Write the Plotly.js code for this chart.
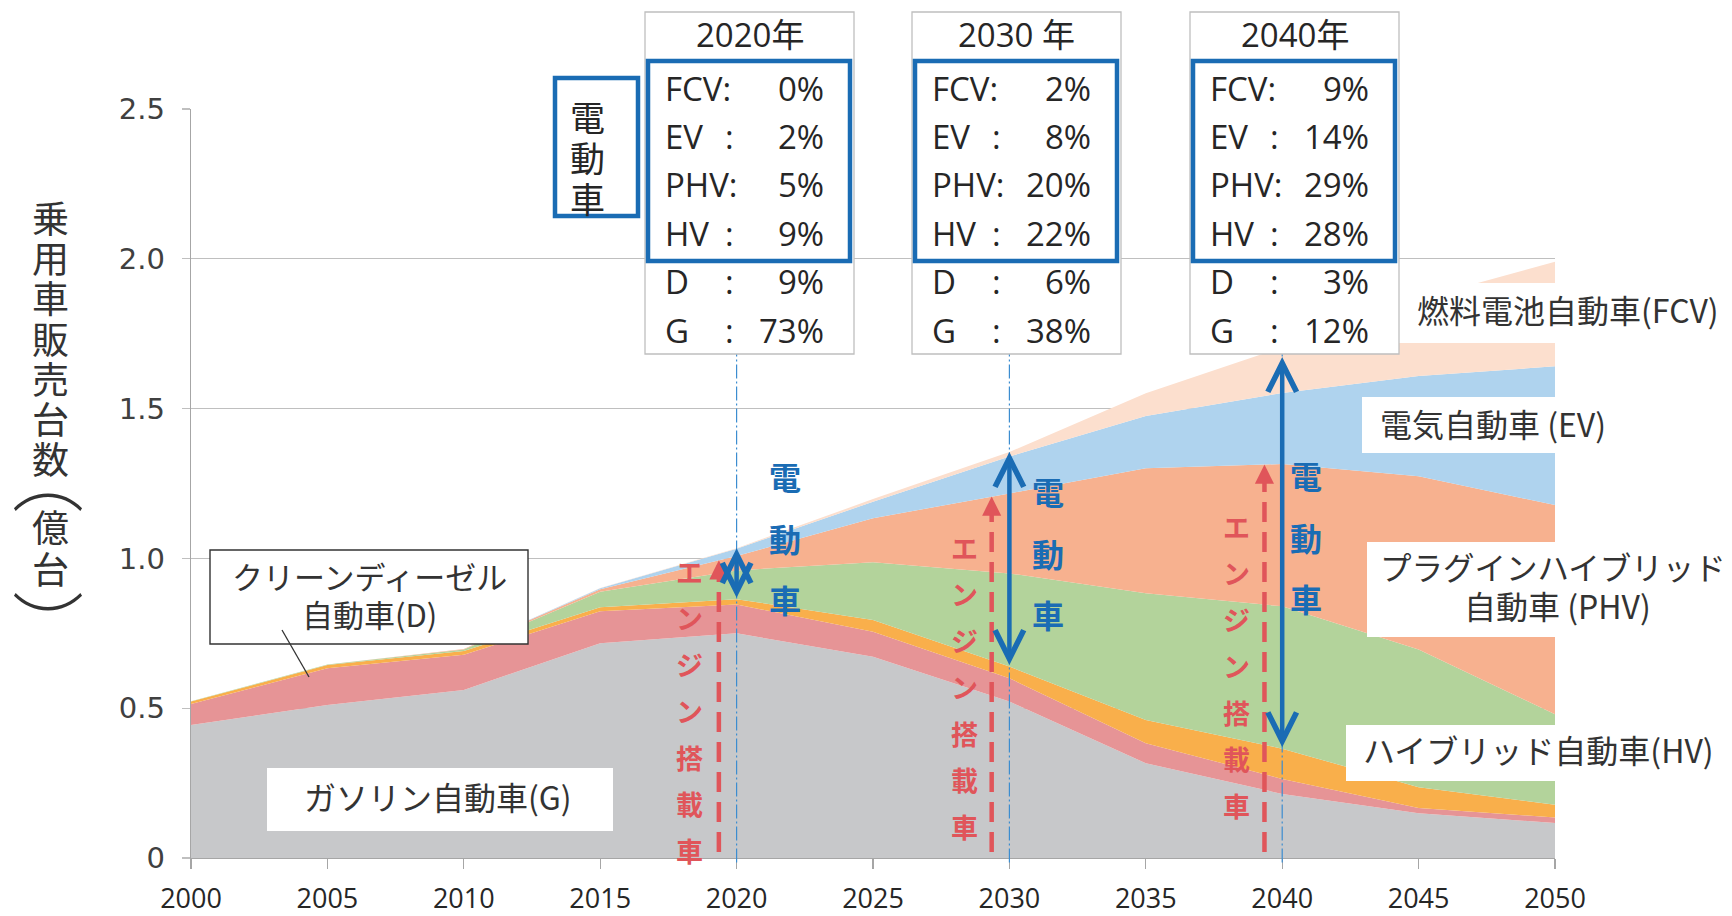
<!DOCTYPE html>
<html><head><meta charset="utf-8">
<script src="https://cdn.plot.ly/plotly-3.0.1.min.js"></script>
<style>html,body{margin:0;padding:0;background:#fff;}#chart{width:1732px;height:916px;}</style>
</head><body><div id="chart"></div>
<script>
// ---------------- data ----------------
const years    = [2000, 2005, 2010, 2015, 2020, 2025, 2030, 2035, 2040, 2045, 2050];
const gasoline = [0.444, 0.511, 0.561, 0.717, 0.750, 0.672, 0.522, 0.316, 0.214, 0.149, 0.117];
const diesel   = [0.070, 0.122, 0.117, 0.107, 0.096, 0.083, 0.078, 0.067, 0.050, 0.018, 0.018];
const otherVeh = [0.008, 0.011, 0.013, 0.013, 0.018, 0.039, 0.039, 0.078, 0.101, 0.069, 0.043];
const hybrid   = [0.001, 0.002, 0.005, 0.052, 0.096, 0.193, 0.311, 0.423, 0.475, 0.460, 0.302];
const plugin   = [0.000, 0.000, 0.002, 0.008, 0.048, 0.147, 0.267, 0.417, 0.475, 0.578, 0.698];
const electric = [0.000, 0.000, 0.000, 0.003, 0.024, 0.055, 0.123, 0.174, 0.237, 0.335, 0.463];
const fuelcell = [0.000, 0.000, 0.000, 0.001, 0.002, 0.009, 0.015, 0.076, 0.153, 0.256, 0.349];

const seriesNames = ['ガソリン自動車(G)', 'クリーンディーゼル自動車(D)', 'その他', 'ハイブリッド自動車(HV)',
                     'プラグインハイブリッド自動車(PHV)', '電気自動車(EV)', '燃料電池自動車(FCV)'];

const xTickVals = [2000, 2005, 2010, 2015, 2020, 2025, 2030, 2035, 2040, 2045, 2050];
const xTickText = ['2000', '2005', '2010', '2015', '2020', '2025', '2030', '2035', '2040', '2045', '2050'];
const yTickVals = [0, 0.5, 1.0, 1.5, 2.0, 2.5];
const yTickText = ['0', '0.5', '1.0', '1.5', '2.0', '2.5'];

const boxYears  = [2020, 2030, 2040];
const boxTitles = ['2020年', '2030 年', '2040年'];
const rowLabels = ['FCV:', 'EV', 'PHV:', 'HV', 'D', 'G'];
const rowColons = ['', ':', '', ':', ':', ':'];
const shareFCV  = [0, 2, 9];
const shareEV   = [2, 8, 14];
const sharePHV  = [5, 20, 29];
const shareHV   = [9, 22, 28];
const shareD    = [9, 6, 3];
const shareG    = [73, 38, 12];

const yTitleMain = '乗用車販売台数';
const yTitleOpen = '︵';
const yTitleUnit = '億台';
const yTitleClose = '︶';
const evBoxText  = '電動車';
const engineText = 'エンジン搭載車';
const labelG     = 'ガソリン自動車(G)';
const labelD1    = 'クリーンディーゼル';
const labelD2    = '自動車(D)';
const labelFCV   = '燃料電池自動車(FCV)';
const labelEV    = '電気自動車 (EV)';
const labelPHV1  = 'プラグインハイブリッド';
const labelPHV2  = '自動車 (PHV)';
const labelHV    = 'ハイブリッド自動車(HV)';

// ---------------- styles / geometry ----------------
const colors = ['#C7C8CA', '#E69496', '#F9AF4B', '#B3D39B', '#F7B18F', '#AFD3EE', '#FCDFCE'];
const W = 1732, H = 916, ML = 191, MR = 177, MT = 109, MB = 58;
const PW = W - ML - MR, PH = H - MT - MB;
const px = x => (x - ML) / PW;          // pixel -> paper x
const py = y => (H - MB - y) / PH;      // pixel -> paper y

const JP = 'Noto Sans CJK JP';
const BOXFONT = 'Open Sans, Noto Sans CJK JP';
const DARK = '#262626';
const RED = '#E0555A';
const BLUE = '#1A6CB4';

const series = [gasoline, diesel, otherVeh, hybrid, plugin, electric, fuelcell];
const traces = series.map((vals, i) => ({
  type: 'scatter', x: years, y: vals, name: seriesNames[i],
  stackgroup: 'one', mode: 'none', fillcolor: colors[i], line: {width: 0},
  hoverinfo: 'x+y+name'
}));

// cumulative tops computed from data
const cum = (arrs) => years.map((_, j) => arrs.reduce((s, a) => s + a[j], 0));
const topOther = cum([gasoline, diesel, otherVeh]);
const topPHV   = cum([gasoline, diesel, otherVeh, hybrid, plugin]);
const topAll   = cum(series);
const interp = (arr, x) => {
  for (let j = 0; j < years.length - 1; j++) {
    if (x >= years[j] && x <= years[j + 1]) {
      const t = (x - years[j]) / (years[j + 1] - years[j]);
      return arr[j] + t * (arr[j + 1] - arr[j]);
    }
  }
  return arr[arr.length - 1];
};

const shapes = [];
const annotations = [];
const txt = (x, y, text, size, color, opts = {}) => annotations.push(Object.assign({
  xref: 'paper', yref: 'paper', x: px(x), y: py(y), text: text, showarrow: false,
  xanchor: 'center', yanchor: 'middle', font: {family: JP, size: size, color: color}
}, opts));
const rectPx = (x0, y0, x1, y1, fill, lineColor, lineWidth) => shapes.push({
  type: 'rect', xref: 'paper', yref: 'paper', layer: 'above',
  x0: px(x0), x1: px(x1), y0: py(y1), y1: py(y0),
  fillcolor: fill, line: {color: lineColor || 'rgba(0,0,0,0)', width: lineWidth || 0}
});

// thin blue dash-dot year lines
const boxBottomPx = 354;
boxYears.forEach(yr => {
  shapes.push({type: 'line', xref: 'x', yref: 'paper', layer: 'above', x0: yr, x1: yr,
    y0: -0.006, y1: py(boxBottomPx), line: {color: '#3C8DD0', width: 1.2, dash: '14px,3px,2px,3px'}});
});

// label white backgrounds
rectPx(267, 768, 613, 831, '#FFFFFF');
rectPx(1395, 283, 1555, 343, '#FFFFFF');
rectPx(1362, 397, 1555, 453, '#FFFFFF');
rectPx(1367, 542, 1555, 637, '#FFFFFF');
rectPx(1346, 725, 1555, 781, '#FFFFFF');

// diesel callout
rectPx(210, 550, 528, 644, '#FFFFFF', '#333333', 1.4);
shapes.push({type: 'line', xref: 'paper', yref: 'paper', layer: 'above',
  x0: px(282), y0: py(630), x1: px(309), y1: py(677), line: {color: '#333333', width: 1.3}});

// share boxes
const boxLeft = [645, 912, 1190];
const boxW = 209;
const BF = {family: BOXFONT, size: 33, color: DARK};
boxYears.forEach((yr, i) => {
  const L = boxLeft[i];
  rectPx(L, 12, L + boxW, boxBottomPx, '#FFFFFF', '#BFBFBF', 1.3);
  rectPx(L + 3, 61, L + boxW - 4, 261, 'rgba(0,0,0,0)', BLUE, 4.5);
  txt(L + boxW / 2, 35, boxTitles[i], 33, DARK, {font: BF});
  const vals = [shareFCV[i], shareEV[i], sharePHV[i], shareHV[i], shareD[i], shareG[i]];
  rowLabels.forEach((lab, r) => {
    const y = 88 + r * 48.4;
    txt(L + 18, y, lab, 33, DARK, {xanchor: 'left', font: BF});
    if (rowColons[r]) txt(L + 84, y, rowColons[r], 33, DARK, {font: BF});
    txt(L + 181, y, vals[r] + '%', 33, DARK, {xanchor: 'right', font: BF});
  });
});

// small 電動車 box
rectPx(555, 78, 638, 216, '#FFFFFF', BLUE, 4.5);
Array.from(evBoxText).forEach((ch, k) => txt(587, 115 + k * 41, ch, 35, DARK, {height: 40}));

// y-axis title (vertical)
Array.from(yTitleMain).forEach((ch, k) => txt(50, 217 + k * 40.2, ch, 37, '#333333', {height: 40}));
txt(48, 473, yTitleOpen, 72, '#333333', {font: {family: JP, size: 72, color: '#333333', weight: 300}});
Array.from(yTitleUnit).forEach((ch, k) => txt(50, 526 + k * 42, ch, 37, '#333333', {height: 40}));
txt(48, 621, yTitleClose, 72, '#333333', {font: {family: JP, size: 72, color: '#333333', weight: 300}});

// labels
txt(438, 796, labelG, 32, '#333333');
txt(369, 575, labelD1, 31, '#333333');
txt(369, 613, labelD2, 31, '#333333');
txt(1415, 309, labelFCV, 32, '#333333', {xanchor: 'left'});
txt(1378, 423, labelEV, 32, '#333333', {xanchor: 'left'});
txt(1553, 566, labelPHV1, 31.5, '#333333');
txt(1557, 605, labelPHV2, 32, '#333333');
txt(1361, 749, labelHV, 32, '#333333', {xanchor: 'left'});

// engine (red dashed) arrows and electrified (blue) arrows
const redStart = [571, 547, 526];
const redX = [689, 964, 1236];
const blueX = [785, 1048, 1306];
const blueStart = [476, 491, 475];
boxYears.forEach((yr, i) => {
  const j = years.indexOf(yr);
  const xr = yr - 0.65;
  const redTop = interp(topPHV, xr);
  shapes.push({type: 'line', xref: 'x', yref: 'y', layer: 'above', x0: xr, x1: xr, y0: 0.02, y1: redTop - 0.03,
    line: {color: RED, width: 4.5, dash: '20px,10px'}});
  annotations.push({xref: 'x', yref: 'y', x: xr, y: redTop, ax: 0, ay: 16, text: '', showarrow: true,
    arrowhead: 2, arrowsize: 0.85, arrowwidth: 4.5, arrowcolor: RED});
  annotations.push({xref: 'x', yref: 'y', x: xr, y: -0.01, ax: 0, ay: -16, text: '', showarrow: true,
    arrowhead: 2, arrowsize: 0.85, arrowwidth: 4.5, arrowcolor: RED});
  const blueTop = Math.min(topAll[j], 1.672);
  annotations.push({xref: 'x', yref: 'y', x: yr, y: blueTop, axref: 'x', ayref: 'y', ax: yr, ay: topOther[j],
    text: '', showarrow: true, arrowside: 'end+start', arrowhead: 5, startarrowhead: 5,
    arrowsize: 1.25, startarrowsize: 1.25, arrowwidth: 4.5, arrowcolor: BLUE});
  Array.from(engineText).forEach((ch, k) => txt(redX[i], redStart[i] + k * 46.5, ch, 27, RED,
    {font: {family: JP, size: 27, color: RED, weight: 'bold'}}));
  Array.from(evBoxText).forEach((ch, k) => txt(blueX[i], blueStart[i] + k * 61.5, ch, 32, BLUE,
    {font: {family: JP, size: 32, color: BLUE, weight: 'bold'}}));
});

const layout = {
  width: W, height: H,
  margin: {l: ML, r: MR, t: MT, b: MB, pad: 0},
  paper_bgcolor: '#FFFFFF', plot_bgcolor: '#FFFFFF',
  showlegend: false,
  xaxis: {
    range: [2000, 2050], tickvals: xTickVals, ticktext: xTickText,
    showgrid: false, zeroline: false, showline: true, linecolor: '#A6A6A6', linewidth: 1.3,
    ticks: 'outside', ticklen: 10, tickcolor: '#A6A6A6', tickwidth: 1.3,
    tickfont: {family: 'Open Sans', size: 27, color: DARK}, ticklabelstandoff: 6, fixedrange: true
  },
  yaxis: {
    range: [0, 2.5], tickvals: yTickVals, ticktext: yTickText,
    showgrid: true, gridcolor: '#BFBFBF', gridwidth: 1.3, zeroline: false,
    showline: true, linecolor: '#A6A6A6', linewidth: 1.3,
    ticks: 'outside', ticklen: 8, tickcolor: '#BFBFBF', tickwidth: 1.3,
    tickfont: {family: 'DejaVu Sans', size: 29, color: '#404040'}, ticklabelstandoff: 11, fixedrange: true
  },
  shapes: shapes,
  annotations: annotations
};

Plotly.newPlot('chart', traces, layout, {displayModeBar: false, staticPlot: true});
</script>
</body></html>
